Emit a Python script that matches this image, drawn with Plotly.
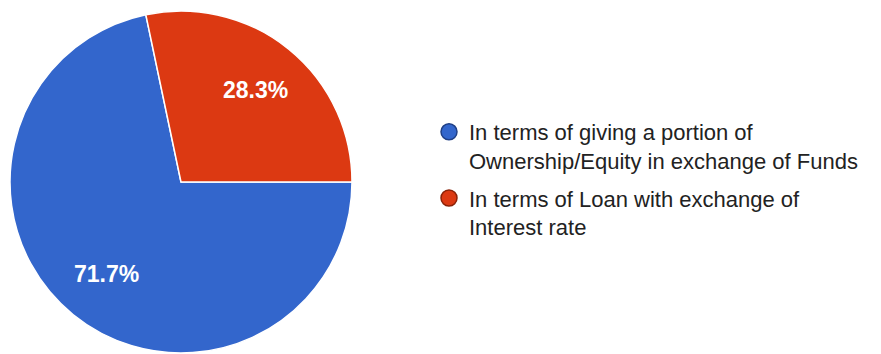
import math
import plotly.graph_objects as go

labels = ["In terms of giving a portion of<br>Ownership/Equity in exchange of Funds",
          "In terms of Loan with exchange of<br>Interest rate"]
values = [71.7, 28.3]
colors = ["#3366cc", "#dc3912"]
edge_colors = ["#1f3f86", "#8a2208"]

W, H = 881, 354
x0, x1 = 10, 352          # pie pixel extent horizontally
ytop, ybot = 11, 353      # pie pixel extent vertically
rotation = 90

fig = go.Figure()
fig.add_trace(go.Pie(
    labels=labels, values=values, sort=False, direction="clockwise", rotation=rotation,
    marker=dict(colors=colors, line=dict(color="white", width=1.5)),
    textinfo="none",
    showlegend=False, hoverinfo="label+percent",
    domain=dict(x=[x0 / W, x1 / W], y=[(H - ybot) / H, (H - ytop) / H]),
))

# percentage labels placed at the mid-angle of each slice
cx, cy = (x0 + x1) / 2, (ytop + ybot) / 2
R = (x1 - x0) / 2
total = sum(values)
start = rotation
for v in values:
    mid = start + 360 * v / total / 2
    a = math.radians(mid)
    px = cx + 0.69 * R * math.sin(a)
    py = cy - 0.69 * R * math.cos(a)
    fig.add_annotation(x=px / W, y=(H - py) / H, xref="paper", yref="paper",
                       xanchor="center", yanchor="middle",
                       text=f"{v / total * 100:.1f}%", showarrow=False,
                       font=dict(family="Liberation Sans, Arial", size=23, color="white", weight="bold"))
    start += 360 * v / total

for i, (lab, c, ec) in enumerate(zip(labels, colors, edge_colors)):
    fig.add_trace(go.Scatter(
        x=[None], y=[None], mode="markers", name=lab, legendgroup=f"g{i}",
        marker=dict(symbol="circle", size=16, color=c, line=dict(color=ec, width=1.5)),
    ))
fig.update_layout(
    width=W, height=H, margin=dict(l=0, r=0, t=0, b=0),
    paper_bgcolor="white", plot_bgcolor="white",
    xaxis=dict(visible=False), yaxis=dict(visible=False),
    legend=dict(x=429 / W, y=1 - 111 / H, xanchor="left", yanchor="top", valign="top",
                font=dict(family="Liberation Sans, Arial", size=22, color="#222222"),
                tracegroupgap=6),
)
fig.write_html("out.html")
